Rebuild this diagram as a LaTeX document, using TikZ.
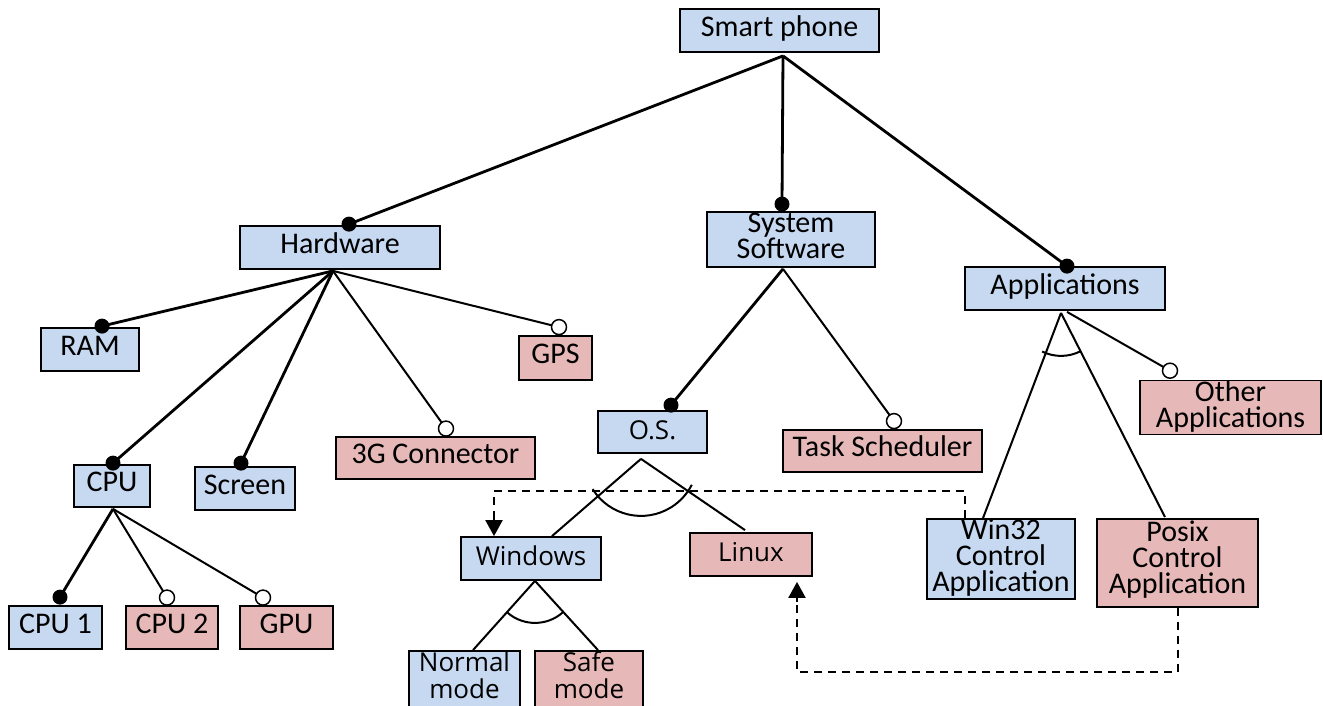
\documentclass[tikz,border=0pt]{standalone}
\usepackage{fontspec}
\setmainfont{Carlito}
\newfontfamily\osfont{Open Sans}
\usetikzlibrary{calc,arrows.meta}
\definecolor{bluef}{HTML}{C6D9F1}
\definecolor{redf}{HTML}{E6B9B8}
\AtBeginDocument{\setlength{\lineskiplimit}{-30pt}}
\begin{document}
\begin{tikzpicture}[x=1pt,y=-1pt,
  box/.style={draw, line width=1.8pt, inner sep=0pt, align=center,
    font=\fontsize{30}{26}\selectfont, text depth=7pt},
  one/.style={text height=18pt},
  bl/.style={box, fill=bluef},
  rd/.style={box, fill=redf},
  osf/.style={font=\osfont\fontsize{26}{27.7}\selectfont, text height=20pt, text depth=6pt},
  osm/.style={font=\osfont\fontsize{26}{27.7}\selectfont, text depth=37pt},
  mand/.style={line width=2.8pt},
  opt/.style={line width=2pt},
  odot/.style={draw=black, fill=white, line width=1.5pt},
  dep/.style={line width=2.2pt, dash pattern=on 8pt off 6pt},
  tipst/.style={-{Triangle[width=17pt,length=16pt,sep=0pt]}, solid, line width=2.2pt, shorten <=0pt},
]
\useasboundingbox (0,0) rectangle (1323,705);
% nodes
\node[bl,one,minimum width=199pt,minimum height=43pt] (sp) at (779.5,30.5) {Smart phone};
\node[bl,one,minimum width=200pt,minimum height=43pt] (hw) at (340,247.5) {Hardware};
\node[bl,minimum width=168pt,minimum height=55pt] (ss) at (791,239.5) {System\\Software};
\node[bl,one,minimum width=200pt,minimum height=43pt] (app) at (1065,288.5) {Applications};
\node[bl,one,minimum width=98pt,minimum height=43pt] (ram) at (90,349.5) {RAM};
\node[rd,one,minimum width=73pt,minimum height=44pt] (gps) at (555.5,358) {GPS};
\node[rd,one,minimum width=199pt,minimum height=42pt] (g3) at (435.5,458) {3G Connector};
\node[bl,one,minimum width=76pt,minimum height=42pt] (cpu) at (112,486) {CPU};
\node[bl,one,minimum width=100pt,minimum height=43pt] (scr) at (245,488.5) {Screen};
\node[bl,osf,minimum width=109pt,minimum height=42pt] (os) at (652.5,432) {O.S.};
\node[rd,one,minimum width=199pt,minimum height=42pt] (task) at (882.5,451) {Task Scheduler};
\node[rd,minimum width=181pt,minimum height=53pt] (other) at (1230.5,407.5) {Other\\Applications};
\node[bl,minimum width=148pt,minimum height=80pt] (win32) at (1001,559) {Win32\\Control\\Application};
\node[rd,text depth=12pt,minimum width=161pt,minimum height=88pt] (posix) at (1177.5,563) {Posix\\Control\\Application};
\node[bl,osf,minimum width=140pt,minimum height=43pt] (win) at (531,558.5) {Windows};
\node[rd,osf,minimum width=122pt,minimum height=43pt] (linux) at (751,554.5) {Linux};
\node[bl,one,minimum width=93pt,minimum height=43pt] (cpu1) at (55.5,627.5) {CPU 1};
\node[rd,one,minimum width=92pt,minimum height=43pt] (cpu2) at (172,627.5) {CPU 2};
\node[rd,one,minimum width=93pt,minimum height=43pt] (gpu) at (286.5,627.5) {GPU};
\node[bl,osm,minimum width=111pt,minimum height=85pt] (normal) at (464.5,693.5) {Normal\\mode};
\node[rd,osm,minimum width=108pt,minimum height=85pt] (safe) at (589,693.5) {Safe\\mode};
% connection points
\coordinate (spA) at ($(sp.south)+(3.5,3)$);
\coordinate (hwI) at ($(hw.north)+(9,-1)$);
\coordinate (ssI) at ($(ss.north)+(-9,-7)$);
\coordinate (appI) at ($(app.north)+(2,0)$);
\coordinate (hwA) at ($(hw.south)+(-7,1)$);
\coordinate (ramI) at ($(ram.north)+(12,-1)$);
\coordinate (cpuI) at ($(cpu.north)+(1,-1)$);
\coordinate (scrI) at ($(scr.north)+(-4,-3)$);
\coordinate (g3I) at ($(g3.north)+(10.5,-7.5)$);
\coordinate (gpsI) at ($(gps.north)+(3.5,-8)$);
\coordinate (cpuA) at ($(cpu.south)+(1,1)$);
\coordinate (cpu1I) at ($(cpu1.north)+(4.5,-8)$);
\coordinate (cpu2I) at ($(cpu2.north)+(-5,-7.5)$);
\coordinate (gpuI) at ($(gpu.north)+(-23.5,-7.5)$);
\coordinate (ssA) at ($(ss.south)+(-8,1)$);
\coordinate (osI) at ($(os.north)+(18.5,-5)$);
\coordinate (taskI) at ($(task.north)+(11.5,-8)$);
\coordinate (appA) at ($(app.south)+(-4,2)$);
\coordinate (appB) at ($(app.south)+(2,1)$);
\coordinate (win32I) at ($(win32.north)+(-18,0)$);
\coordinate (posixI) at ($(posix.north)+(-12.5,-1)$);
\coordinate (otherI) at ($(other.north)+(-60.5,-9)$);
\coordinate (osA) at ($(os.south)+(-11.5,5)$);
\coordinate (winI) at ($(win.north)+(21,0)$);
\coordinate (linuxI) at ($(linux.north)+(-6,-2)$);
\coordinate (winA) at ($(win.south)+(4,0)$);
\coordinate (normalI) at ($(normal.north)+(8.5,0)$);
\coordinate (safeI) at ($(safe.north)+(9,0)$);
% dependency points
\coordinate (d1s) at ($(win32.north)+(-36,0)$);
\coordinate (d1e) at ($(win.north)+(-37,0)$);
\coordinate (d1b) at ($(d1e)+(0,-20)$);
\coordinate (d2s) at ($(posix.south)+(0.5,0)$);
\coordinate (d2e) at ($(linux.south)+(46,5)$);
\coordinate (d2b) at ($(d2e)+(0,20)$);
% connectors
\draw[mand] (spA) -- (hwI);
\draw[mand] (spA) -- (ssI);
\draw[mand] (spA) -- (appI);
\draw[mand] (hwA) -- (ramI);
\draw[mand] (hwA) -- (cpuI);
\draw[mand] (hwA) -- (scrI);
\draw[opt] (hwA) -- (g3I);
\draw[opt] (hwA) -- (gpsI);
\draw[mand] (cpuA) -- (cpu1I);
\draw[opt] (cpuA) -- (cpu2I);
\draw[opt] (cpuA) -- (gpuI);
\draw[mand] (ssA) -- (osI);
\draw[opt] (ssA) -- (taskI);
\draw[opt] (appA) -- (win32I);
\draw[opt] (appA) -- (posixI);
\draw[opt] (appB) -- (otherI);
\draw[opt] (osA) -- (winI);
\draw[opt] (osA) -- (linuxI);
\draw[opt] (winA) -- (normalI);
\draw[opt] (winA) -- (safeI);
% group arcs
\draw[opt] ($(osA)+(212:57pt)$) arc[start angle=212,end angle=333,radius=57pt];
\draw[opt] ($(winA)+(229:42pt)$) arc[start angle=229,end angle=312,radius=42pt];
\draw[opt] ($(appA)+(244:43pt)$) arc[start angle=244,end angle=297,radius=43pt];
% dots
\foreach \p in {hwI,ssI,appI,ramI,cpuI,scrI,cpu1I,osI}
  \fill (\p) circle[radius=7.5pt];
\foreach \p in {g3I,gpsI,cpu2I,gpuI,taskI,otherI}
  \draw[odot] (\p) circle[radius=7.5pt];
% dependencies
\draw[dep] (d1s) -- ++(0,-27) -| (d1b);
\draw[tipst] (d1b) -- (d1e);
\draw[dep] (d2s) -- ++(0,64) -| (d2b);
\draw[tipst] (d2b) -- (d2e);
\end{tikzpicture}
\end{document}
